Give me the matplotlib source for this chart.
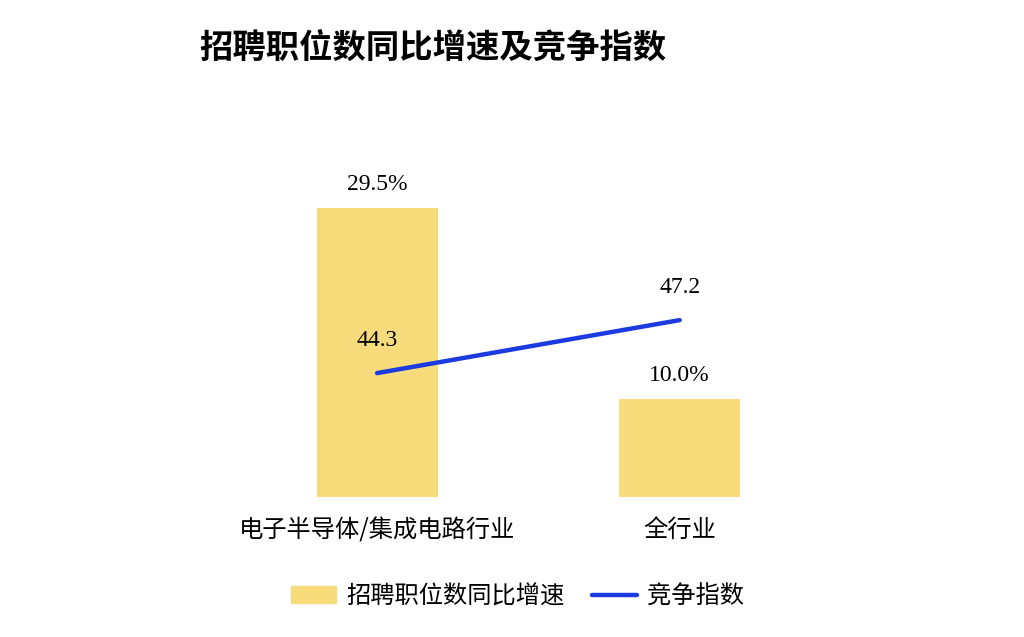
import matplotlib
matplotlib.use("Agg")
import matplotlib.pyplot as plt
from matplotlib.patches import Patch
from matplotlib.lines import Line2D

plt.rcParams['font.family'] = ['Noto Sans CJK SC', 'DejaVu Sans']

categories = ["电子半导体/集成电路行业", "全行业"]
growth = [29.5, 10.0]          # 招聘职位数同比增速 (%)
competition = [44.3, 47.2]     # 竞争指数

bar_color = "#F8DC7C"
line_color = "#1B3BE0"
num_font = "Liberation Serif"

fig = plt.figure(figsize=(10.24, 6.37), dpi=100)
ax = fig.add_axes([0.191, 0.2198, 0.65, 0.576])
x = list(range(len(categories)))

ax.bar(x, growth, width=0.4, color=bar_color, zorder=1)
ax.set_xlim(-0.6, 1.6)
ax.set_ylim(0, 37.4)
for xi, v in zip(x, growth):
    ax.annotate(f"{v:.1f}%", (xi, v), xytext=(0, 9), textcoords="offset points",
                ha="center", va="bottom", fontsize=17, family=num_font)

ax2 = ax.twinx()
ax2.plot(x, competition, color=line_color, linewidth=3.2, solid_capstyle="round", zorder=3)
ax2.set_ylim(37.52, 57.6)
for xi, v in zip(x, competition):
    ax2.annotate(f"{v:.1f}", (xi, v), xytext=(0, 16), textcoords="offset points",
                 ha="center", va="bottom", fontsize=17, family=num_font)

for a in (ax, ax2):
    for s in a.spines.values():
        s.set_visible(False)
    a.set_yticks([])
ax.set_xticks(x)
ax.set_xticklabels(categories, fontsize=17.5)
ax.tick_params(axis="x", length=0, pad=15)

fig.text(0.195, 0.922, "招聘职位数同比增速及竞争指数", fontsize=24, fontweight="bold",
         ha="left", va="center")

handles = [Patch(color=bar_color), Line2D([], [], color=line_color, linewidth=3.2, solid_capstyle="round")]
fig.legend(handles, ["招聘职位数同比增速", "竞争指数"], loc="center", bbox_to_anchor=(0.5054, 0.064),
           ncol=2, frameon=False, fontsize=17.5, handlelength=1.85, columnspacing=1.15,
           handletextpad=0.4)

fig.savefig("out.png", dpi=100)
